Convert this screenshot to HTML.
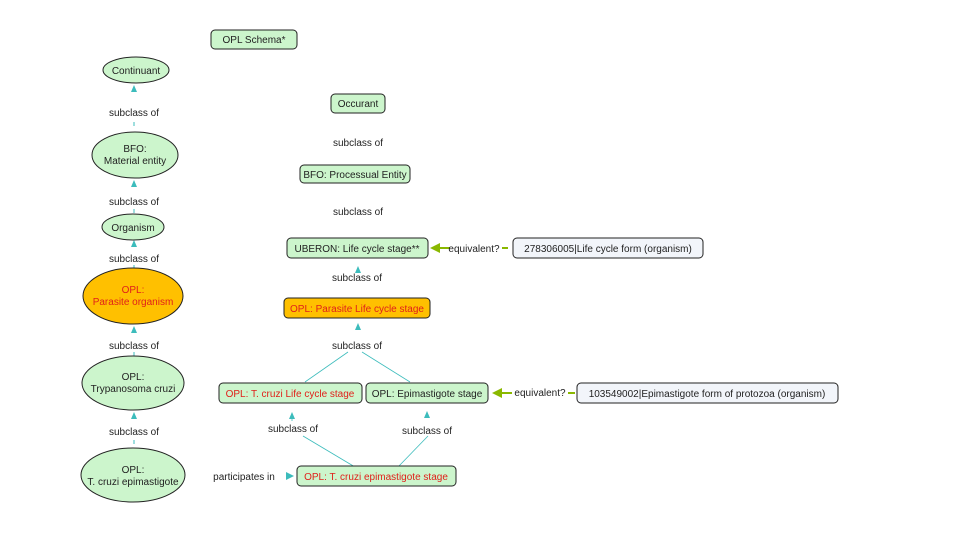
<!DOCTYPE html>
<html><head><meta charset="utf-8"><style>
html,body{margin:0;padding:0;background:#fff;}
svg{display:block;font-family:"Liberation Sans","DejaVu Sans",sans-serif;}
</style></head><body>
<svg width="960" height="540" viewBox="0 0 960 540" xmlns="http://www.w3.org/2000/svg">
<defs>
<marker id="t" viewBox="0 0 10 10" refX="5" refY="5" markerWidth="6" markerHeight="6" orient="auto"><path d="M0,0 L10,5 L0,10z" fill="#3cbcbc"/></marker>
</defs>
<g font-size="10" fill="#222" text-anchor="middle">
<!-- schema -->
<rect x="211" y="30" width="86" height="19" rx="4" fill="#ccf5cc" stroke="#222"/>
<text x="254" y="43">OPL Schema*</text>

<!-- left column -->
<g stroke="#3cbcbc" stroke-width="1">
<line x1="134" y1="122" x2="134" y2="126"/>
<line x1="134" y1="209" x2="134" y2="213"/>
<line x1="134" y1="265" x2="134" y2="268"/>
<line x1="134" y1="352" x2="134" y2="356"/>
<line x1="134" y1="440" x2="134" y2="444"/>
</g>
<g fill="#3cbcbc">
<path d="M131,92 L134,85 L137,92z"/>
<path d="M131,187 L134,180 L137,187z"/>
<path d="M131,247 L134,240 L137,247z"/>
<path d="M131,333 L134,326 L137,333z"/>
<path d="M131,419 L134,412 L137,419z"/>
</g>
<text x="134" y="116">subclass of</text>
<text x="134" y="205">subclass of</text>
<text x="134" y="262">subclass of</text>
<text x="134" y="349">subclass of</text>
<text x="134" y="435">subclass of</text>

<ellipse cx="136" cy="70" rx="33" ry="13" fill="#ccf5cc" stroke="#222"/>
<text x="136" y="74">Continuant</text>
<ellipse cx="135" cy="155" rx="43" ry="23" fill="#ccf5cc" stroke="#222"/>
<text x="135" y="152">BFO:</text><text x="135" y="164">Material entity</text>
<ellipse cx="133" cy="227" rx="31" ry="13" fill="#ccf5cc" stroke="#222"/>
<text x="133" y="231">Organism</text>
<ellipse cx="133" cy="296" rx="50" ry="28" fill="#ffc000" stroke="#222"/>
<text x="133" y="293" fill="#e0201a">OPL:</text><text x="133" y="305" fill="#e0201a">Parasite organism</text>
<ellipse cx="133" cy="383" rx="51" ry="27" fill="#ccf5cc" stroke="#222"/>
<text x="133" y="380">OPL:</text><text x="133" y="392">Trypanosoma cruzi</text>
<ellipse cx="133" cy="475" rx="52" ry="27" fill="#ccf5cc" stroke="#222"/>
<text x="133" y="473">OPL:</text><text x="133" y="485">T. cruzi epimastigote</text>

<!-- right -->
<rect x="331" y="94" width="54" height="19" rx="4" fill="#ccf5cc" stroke="#222"/>
<text x="358" y="107">Occurant</text>
<text x="358" y="146">subclass of</text>
<rect x="300" y="165" width="110" height="18" rx="4" fill="#ccf5cc" stroke="#222"/>
<text x="355" y="178">BFO: Processual Entity</text>
<text x="358" y="215">subclass of</text>
<rect x="287" y="238" width="141" height="20" rx="4" fill="#ccf5cc" stroke="#222"/>
<text x="357" y="252">UBERON: Life cycle stage**</text>
<path d="M355,273 L358,266 L361,273z" fill="#3cbcbc"/>
<text x="357" y="281">subclass of</text>
<rect x="284" y="298" width="146" height="20" rx="4" fill="#ffc000" stroke="#222"/>
<text x="357" y="312" fill="#e0201a">OPL: Parasite Life cycle stage</text>
<path d="M355,330 L358,323 L361,330z" fill="#3cbcbc"/>
<text x="357" y="349">subclass of</text>
<g stroke="#3cbcbc" stroke-width="0.8">
<line x1="348" y1="352" x2="305" y2="382"/>
<line x1="362" y1="352" x2="410" y2="382"/>
<line x1="355" y1="467" x2="303" y2="436"/>
<line x1="398" y1="467" x2="428" y2="436"/>
<line x1="292" y1="417" x2="292" y2="421"/>
</g>
<path d="M289,419 L292,412 L295,419z" fill="#3cbcbc"/>
<path d="M424,418 L427,411 L430,418z" fill="#3cbcbc"/>
<text x="293" y="432">subclass of</text>
<text x="427" y="434">subclass of</text>

<rect x="219" y="383" width="143" height="20" rx="4" fill="#ccf5cc" stroke="#222"/>
<text x="290" y="397" fill="#e0201a">OPL: T. cruzi Life cycle stage</text>
<rect x="366" y="383" width="122" height="20" rx="4" fill="#ccf5cc" stroke="#222"/>
<text x="427" y="397">OPL: Epimastigote stage</text>
<rect x="297" y="466" width="159" height="20" rx="4" fill="#ccf5cc" stroke="#222"/>
<text x="376" y="480" fill="#e0201a">OPL: T. cruzi epimastigote stage</text>
<text x="244" y="480">participates in</text>
<path d="M286,472 L294,476 L286,480z" fill="#3cbcbc"/>

<!-- equivalents -->
<line x1="438" y1="248" x2="450" y2="248" stroke="#8ab800" stroke-width="2"/>
<path d="M430,248 L440,243 L440,253z" fill="#8ab800"/>
<text x="474" y="252">equivalent?</text>
<line x1="502" y1="248" x2="508" y2="248" stroke="#8ab800" stroke-width="2"/>
<rect x="513" y="238" width="190" height="20" rx="4" fill="#f2f5fa" stroke="#222"/>
<text x="608" y="252">278306005|Life cycle form (organism)</text>

<line x1="500" y1="393" x2="512" y2="393" stroke="#8ab800" stroke-width="2"/>
<path d="M492,393 L502,388 L502,398z" fill="#8ab800"/>
<text x="540" y="396">equivalent?</text>
<line x1="568" y1="393" x2="575" y2="393" stroke="#8ab800" stroke-width="2"/>
<rect x="577" y="383" width="261" height="20" rx="4" fill="#f2f5fa" stroke="#222"/>
<text x="707" y="397">103549002|Epimastigote form of protozoa (organism)</text>
</g>
</svg>
</body></html>
